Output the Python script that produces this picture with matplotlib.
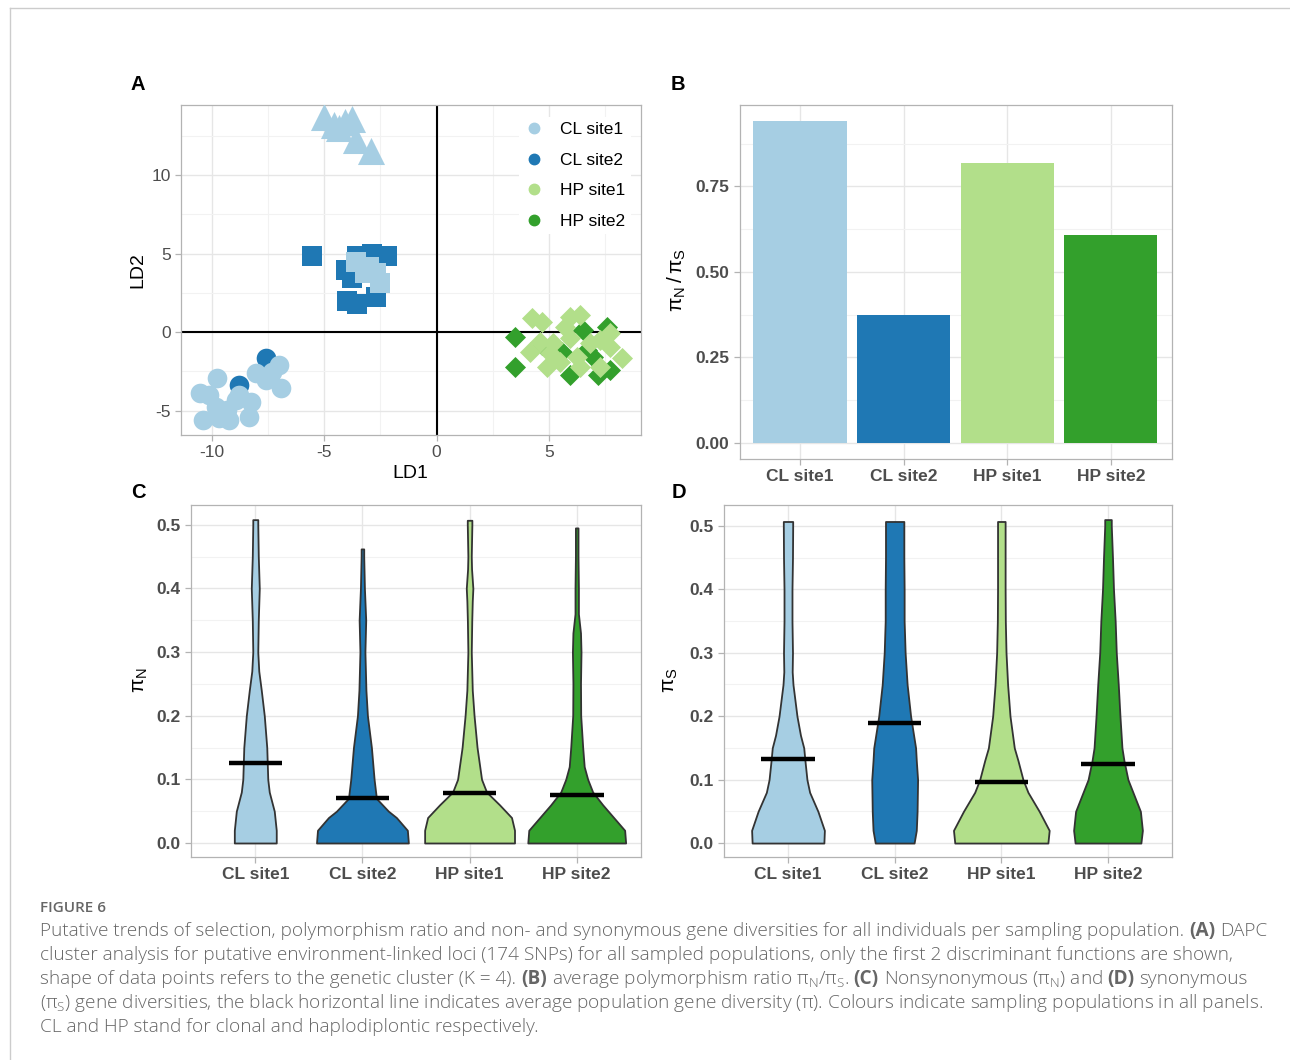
import numpy as np
import matplotlib.pyplot as plt
from matplotlib.lines import Line2D
from matplotlib.ticker import MultipleLocator

plt.rcParams['font.family'] = ['Liberation Sans', 'DejaVu Sans']
plt.rcParams['axes.unicode_minus'] = False

# populations and colours
pops = ['CL site1', 'CL site2', 'HP site1', 'HP site2']
colors = ['#a6cee3', '#1f78b4', '#b2df8a', '#33a02c']

# ---- panel A: DAPC scores (LD1, LD2), grouped by population and cluster shape
tri_cl1_x = [-5.0, -4.1, -3.75, -4.33, -4.55, -3.57, -2.9]
tri_cl1_y = [13.7, 13.4, 13.6, 13.0, 13.2, 12.2, 11.5]

sq_cl2_x = [-5.54, -3.53, -2.86, -2.23, -4.02, -3.75, -3.97, -3.53, -2.68]
sq_cl2_y = [4.84, 4.84, 4.97, 4.84, 3.95, 3.44, 1.97, 1.78, 2.23]
sq_cl1_x = [-3.57, -2.99, -2.68, -2.54, -3.21]
sq_cl1_y = [4.46, 4.14, 3.76, 3.12, 3.76]

circ_cl2_x = [-7.59, -8.79]
circ_cl2_y = [-1.66, -3.38]
circ_cl1_x = [-10.54, -9.78, -10.4, -9.69, -9.24, -8.35, -8.26, -8.93, -9.82, -9.33,
              -8.79, -8.04, -7.59, -7.01, -6.92, -7.32, -10.13]
circ_cl1_y = [-3.89, -2.93, -5.61, -5.48, -5.61, -5.41, -4.46, -4.33, -4.78, -4.97,
              -4.01, -2.61, -3.06, -2.10, -3.57, -2.55, -4.01]

dia_hp2_x = [3.48, 3.48, 5.94, 6.52, 7.59, 7.72, 7.19, 5.58, 6.70, 4.69, 6.96]
dia_hp2_y = [-0.32, -2.23, -2.74, 0.13, 0.32, -2.42, -2.74, -1.27, -1.15, -0.83, -1.59]
dia_hp1_x = [4.24, 4.69, 5.94, 6.38, 5.71, 4.15, 4.60, 4.91, 5.18, 5.49, 6.25, 5.94,
             6.38, 7.28, 7.72, 8.26, 7.28, 7.72, 6.83, 5.04]
dia_hp1_y = [0.89, 0.64, 0.96, 1.08, 0.32, -1.27, -0.64, -2.23, -0.70, -1.91, -1.59, -0.38,
             -2.23, -0.51, -0.96, -1.66, -2.23, -0.06, -0.70, -1.34]

# ---- panel B: average piN/piS
ratio = [0.941, 0.374, 0.819, 0.608]

# ---- panels C and D: violin outlines (y, half width in px at ~107 px per category) and means
pin_y = [
    [0, 0.02, 0.05, 0.08, 0.10, 0.15, 0.20, 0.24, 0.27, 0.30, 0.35, 0.40, 0.45, 0.50, 0.508],
    [0, 0.02, 0.04, 0.05, 0.07, 0.10, 0.15, 0.20, 0.24, 0.30, 0.35, 0.40, 0.45, 0.462],
    [0, 0.02, 0.04, 0.06, 0.08, 0.10, 0.15, 0.20, 0.24, 0.30, 0.35, 0.38, 0.40, 0.43, 0.45, 0.50, 0.507],
    [0, 0.02, 0.04, 0.06, 0.08, 0.10, 0.12, 0.15, 0.20, 0.25, 0.30, 0.33, 0.36, 0.40, 0.45, 0.495],
]
pin_w = [
    [21, 21, 19, 14, 12.5, 11.5, 9, 6, 3.5, 2.5, 3, 4, 3, 2.5, 2.5],
    [46, 45, 34, 26, 14, 11.7, 9, 5, 3.5, 2.5, 3.3, 2, 1.3, 1.3],
    [45, 45, 42, 30, 17, 12, 7.5, 4.5, 2.7, 1.7, 2.2, 2.7, 3.3, 2, 1.7, 2.3, 2.3],
    [49, 48, 37, 26, 16, 11, 7.5, 6, 4, 3.8, 4.3, 3.8, 1.7, 1.7, 1.3, 1.3],
]
pin_mean = [0.125, 0.071, 0.078, 0.076]

pis_y = [
    [0, 0.02, 0.05, 0.08, 0.10, 0.13, 0.15, 0.17, 0.20, 0.25, 0.27, 0.30, 0.35, 0.40, 0.45, 0.50, 0.507],
    [0, 0.02, 0.05, 0.10, 0.13, 0.15, 0.18, 0.20, 0.25, 0.30, 0.35, 0.40, 0.45, 0.50, 0.507],
    [0, 0.02, 0.05, 0.08, 0.10, 0.13, 0.15, 0.20, 0.25, 0.30, 0.35, 0.40, 0.45, 0.50, 0.507],
    [0, 0.02, 0.05, 0.08, 0.10, 0.13, 0.15, 0.20, 0.25, 0.30, 0.35, 0.40, 0.45, 0.50, 0.51],
]
pis_w = [
    [36, 36.5, 30, 21.7, 19, 17, 15.8, 12.5, 9, 5, 4.2, 4.5, 4, 4, 4.5, 4.7, 4.7],
    [19.5, 21.7, 22.5, 23, 21.7, 21, 18, 16, 12.5, 10.5, 9.5, 9.5, 9.2, 9.2, 9.2],
    [46.7, 48, 38, 26.7, 21.7, 16.7, 13, 8.7, 6.3, 4.7, 4, 3.8, 3.8, 3.8, 3.8],
    [33, 34.5, 32.5, 25, 20, 16, 14, 12, 10.3, 8.3, 7.2, 5.5, 4.5, 3.3, 3.3],
]
pis_mean = [0.133, 0.19, 0.096, 0.125]

W, H = 1290, 1060
fig = plt.figure(figsize=(W / 100, H / 100), dpi=100)


def box(l, t, r, b):
    return [l / W, 1 - b / H, (r - l) / W, (b - t) / H]


def style(ax, bold=False):
    for s in ax.spines.values():
        s.set_color('#b3b3b3')
        s.set_linewidth(0.9)
    ax.tick_params(colors='#b3b3b3', labelcolor='#4d4d4d', length=4, width=0.9, labelsize=12.5)
    ax.tick_params(which='minor', length=0)
    ax.grid(True, which='major', color='#e6e6e6', lw=1.0)
    ax.grid(True, which='minor', color='#f2f2f2', lw=0.8)
    ax.set_axisbelow(True)
    if bold:
        for lb in ax.get_xticklabels() + ax.get_yticklabels():
            lb.set_fontweight('bold')


# ---------------- A
axA = fig.add_axes(box(181, 105, 641, 435))
axA.set_xlim(-11.38, 9.1)
axA.set_ylim(-6.56, 14.46)
axA.xaxis.set_major_locator(MultipleLocator(5))
axA.xaxis.set_minor_locator(MultipleLocator(2.5))
axA.yaxis.set_major_locator(MultipleLocator(5))
axA.yaxis.set_minor_locator(MultipleLocator(2.5))
axA.axhline(0, color='black', lw=1.5, zorder=1)
axA.axvline(0, color='black', lw=1.5, zorder=1)
kw = dict(linewidths=0, zorder=3)
axA.scatter(circ_cl2_x, circ_cl2_y, s=200, marker='o', c=colors[1], **kw)
axA.scatter(circ_cl1_x, circ_cl1_y, s=200, marker='o', c=colors[0], **kw)
axA.scatter(sq_cl2_x, sq_cl2_y, s=190, marker='s', c=colors[1], **kw)
axA.scatter(sq_cl1_x, sq_cl1_y, s=190, marker='s', c=colors[0], **kw)
axA.scatter(tri_cl1_x, tri_cl1_y, s=380, marker='^', c=colors[0], **kw)
axA.scatter(dia_hp2_x, dia_hp2_y, s=115, marker='D', c=colors[3], **kw)
axA.scatter(dia_hp1_x, dia_hp1_y, s=115, marker='D', c=colors[2], **kw)
style(axA)
handles = [Line2D([], [], marker='o', ls='', color=c, ms=7.5) for c in colors]
leg = axA.legend(handles, pops, loc='upper left', bbox_to_anchor=(0.715, 0.99), fontsize=12.5,
                 frameon=True, facecolor='white', edgecolor='none', framealpha=1,
                 labelspacing=0.88, handletextpad=0.9, borderpad=0.3, handlelength=1.2)
leg.set_zorder(5)

# ---------------- B
axB = fig.add_axes(box(740, 105, 1172, 459))
xpos = np.arange(1, 5)
axB.bar(xpos, ratio, width=0.9, color=colors, zorder=2)
axB.set_xlim(0.42, 4.59)
axB.set_ylim(-0.047, 0.988)
axB.set_xticks(xpos)
axB.set_xticklabels(pops)
axB.yaxis.set_major_locator(MultipleLocator(0.25))
axB.yaxis.set_minor_locator(MultipleLocator(0.125))
axB.yaxis.set_major_formatter(plt.FormatStrFormatter('%.2f'))
style(axB, bold=True)


# ---------------- C, D
def violins(ax, ys, ws, means, scale):
    for i in range(4):
        y = np.array(ys[i])
        w = np.array(ws[i]) / scale
        ax.fill_betweenx(y, xpos[i] - w, xpos[i] + w, facecolor=colors[i],
                         edgecolor='#333333', lw=1.3, zorder=2)
        ax.hlines(means[i], xpos[i] - 0.25, xpos[i] + 0.25, color='black', lw=3.2, zorder=3)
    ax.set_xlim(0.40, 4.60)
    ax.set_xticks(xpos)
    ax.set_xticklabels(pops)
    ax.yaxis.set_major_locator(MultipleLocator(0.1))
    ax.yaxis.set_minor_locator(MultipleLocator(0.05))
    ax.yaxis.set_major_formatter(plt.FormatStrFormatter('%.1f'))
    style(ax, bold=True)


axC = fig.add_axes(box(191, 505, 641, 857))
axC.set_ylim(-0.022, 0.531)
violins(axC, pin_y, pin_w, pin_mean, 107.3)

axD = fig.add_axes(box(724, 505, 1172, 857))
axD.set_ylim(-0.022, 0.533)
violins(axD, pis_y, pis_w, pis_mean, 107.0)

# panel letters and axis titles
for s, x, y in [('A', 138, 85), ('B', 678, 85), ('C', 138, 492), ('D', 679, 492)]:
    fig.text(x / W, 1 - y / H, s, fontsize=14.5, fontweight='bold', ha='center', va='center')
fig.text(410 / W, 1 - 473 / H, 'LD1', fontsize=14, ha='center', va='center')
fig.text(138 / W, 1 - 270 / H, 'LD2', fontsize=14, ha='center', va='center', rotation=90)
fig.text(677 / W, 1 - 280 / H, r'$\mathregular{\pi_N\,/\,\pi_S}$', fontsize=15, ha='center', va='center', rotation=90)
fig.text(140 / W, 1 - 680 / H, r'$\mathregular{\pi_N}$', fontsize=15, ha='center', va='center', rotation=90)
fig.text(670 / W, 1 - 680 / H, r'$\mathregular{\pi_S}$', fontsize=15, ha='center', va='center', rotation=90)

# page frame
fig.add_artist(Line2D([10 / W, 1], [1 - 8 / H, 1 - 8 / H], color='#cccccc', lw=1))
fig.add_artist(Line2D([10 / W, 10 / W], [0, 1 - 8 / H], color='#cccccc', lw=1))

# caption
cap_font = ['Open Sans', 'DejaVu Sans']
cap_col = '#666666'
cap_size = 13.7
fig.text(40 / W, 1 - 908 / H, 'FIGURE 6', fontsize=11, color=cap_col, family=cap_font,
         va='center', fontweight='semibold')

caption = [
    [('Putative trends of selection, polymorphism ratio and non- and synonymous gene diversities '
      'for all individuals per sampling population. ', False), ('(A)', True), (' DAPC', False)],
    [('cluster analysis for putative environment-linked loci (174 SNPs) for all sampled populations, '
      'only the first 2 discriminant functions are shown,', False)],
    [('shape of data points refers to the genetic cluster (K = 4). ', False), ('(B)', True),
     (r' average polymorphism ratio $\mathregular{\pi_N/\pi_S}$. ', False), ('(C)', True),
     (r' Nonsynonymous ($\mathregular{\pi_N}$) and ', False), ('(D)', True), (' synonymous', False)],
    [(r'($\mathregular{\pi_S}$) gene diversities, the black horizontal line indicates average population '
      r'gene diversity ($\mathregular{\pi}$). Colours indicate sampling populations in all panels.', False)],
    [('CL and HP stand for clonal and haplodiplontic respectively.', False)],
]

renderer = fig.canvas.get_renderer()


def text_w(s, bold):
    t = fig.text(0, 0, s, fontsize=cap_size, family=cap_font,
                 fontweight='bold' if bold else 'light')
    w = t.get_window_extent(renderer).width
    t.remove()
    return w


space_w = text_w('a a', False) - text_w('aa', False)
for i, parts in enumerate(caption):
    x = 40.0
    y = 1 - (936 + 24 * i) / H
    for s, bold in parts:
        lead = len(s) - len(s.lstrip(' '))
        trail = len(s) - len(s.rstrip(' '))
        x += lead * space_w
        core = s.strip(' ')
        t = fig.text(x / W, y, core, fontsize=cap_size, family=cap_font, color=cap_col,
                     fontweight='bold' if bold else 'light', va='baseline')
        x += t.get_window_extent(renderer).width + trail * space_w

fig.savefig('out.png', dpi=100, facecolor='white')
